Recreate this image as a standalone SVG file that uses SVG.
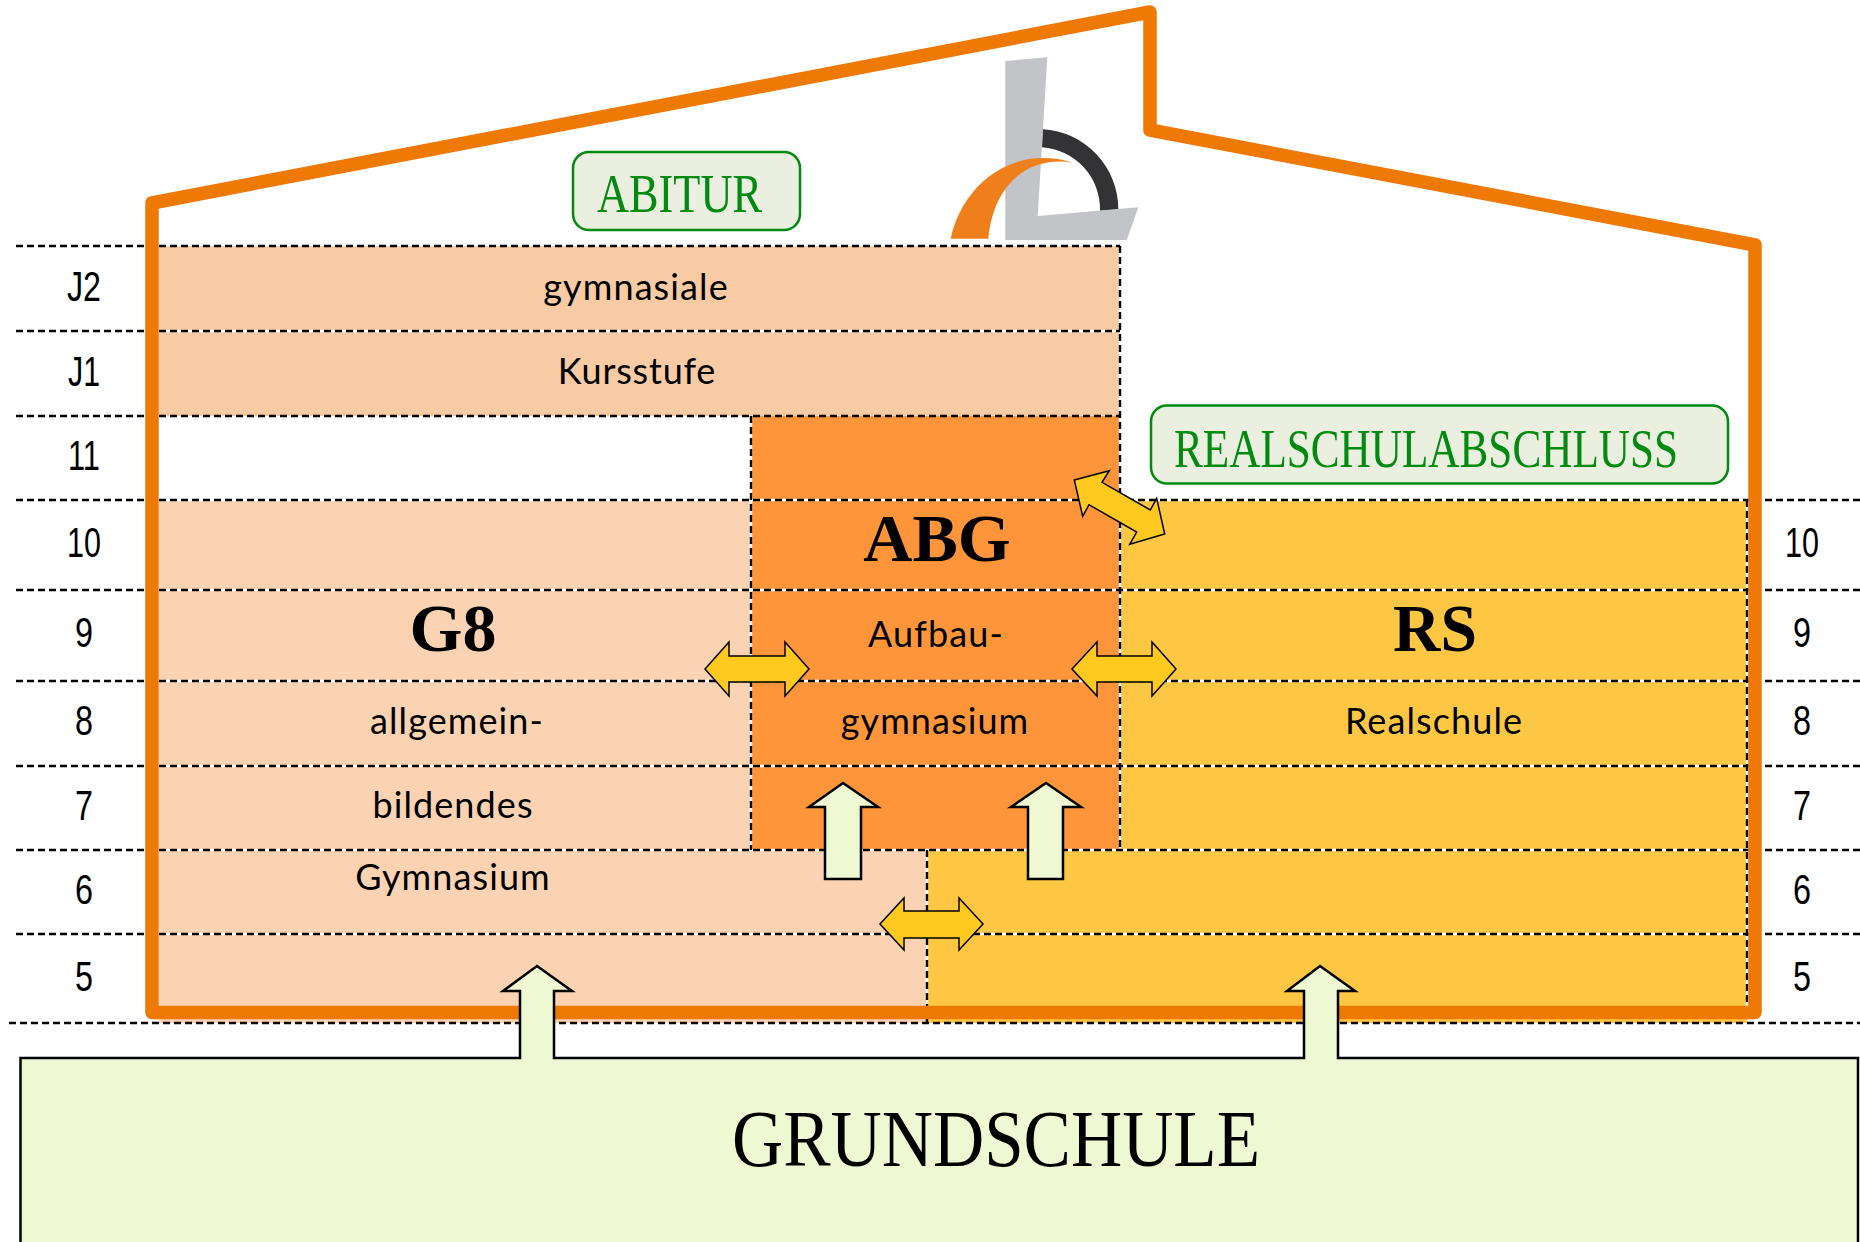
<svg xmlns="http://www.w3.org/2000/svg" width="1860" height="1242" viewBox="0 0 1860 1242">
<style>
.dash{stroke:#000;stroke-width:2.4;stroke-dasharray:7 4;fill:none}
.gap{stroke:#fff;stroke-width:2.4;fill:none}
.row{font-family:"Liberation Sans",Arial,sans-serif;font-size:42px;fill:#000;text-anchor:middle}
.body{font-family:Lato,"Open Sans",sans-serif;font-size:36px;letter-spacing:1.1px;fill:#000;text-anchor:middle}
.big{font-family:"Liberation Serif","Times New Roman",serif;font-weight:bold;font-size:68px;fill:#000;text-anchor:middle}
.goal{font-family:"Liberation Serif","Times New Roman",serif;font-size:55px;fill:#008a10}
.goalbox{fill:#eaefdf;stroke:#008a10;stroke-width:2.5}
.up{fill:#eef8d2;stroke:#000;stroke-width:2.5}
.both{fill:#ffc91f;stroke:#000;stroke-width:1.5}
</style>
<g id="bands">
<rect x="159" y="246" width="961" height="170" fill="#f8cba4"/>
<rect x="159" y="500" width="593" height="350" fill="#fcd3b2"/>
<rect x="159" y="850" width="768" height="173" fill="#fcd3b2"/>
<rect x="1120" y="500" width="627" height="350" fill="#fec743"/>
<rect x="927" y="850" width="820" height="173" fill="#fec743"/>
<rect x="751" y="416" width="369" height="434" fill="#fe953a"/>
</g>
<g id="logo">
<path d="M1042.7,129.3A80,80 0 0 1 1118.3,209.3L1100,210.7A62,62 0 0 0 1042,147.3Z" fill="#333335"/>
<path d="M1005.3,61L1047.3,57.3L1037.7,216L1138.3,207.3L1126.7,240L1005.3,240Z" fill="#c3c4c7"/>
<path d="M950.7,238.7C962,185 1012,144 1072.7,162.7C1032,156 994,180 988.3,238.7Z" fill="#ef7f1a"/>
</g>
<g id="grid">
<path class="gap" d="M159,331H1120M159,500H1860M159,590H1860M159,681H1860M159,766H1860M159,850H1860M159,934H1860"/>
<path class="gap" d="M751,416V850M1120,246V850M927,850V1023M1747,500V1012"/>
<path class="dash" d="M16,246H1120M16,331H1120M16,416H1120M16,500H1860M16,590H1860M16,681H1860M16,766H1860M16,850H1860M16,934H1860M9,1023H1860"/>
<path class="dash" d="M751,416V850M1120,246V850M927,850V1023M1747,500V1012"/>
</g>
<path id="house" d="M152,1012.5V203L1150,12V130L1755,245V1012.5Z" fill="none" stroke="#ee7a05" stroke-width="13.5" stroke-linejoin="round"/>
<g id="grundschule">
<path d="M20.5,1242V1058H520V991H503L537,966L572,991H554V1058H1304V991H1287L1320,966L1355,991H1338V1058H1858V1242" fill="#eef8d2" stroke="#000" stroke-width="2.5"/>
<text x="996" y="1166" font-family="'Liberation Serif',serif" font-size="80" fill="#000" text-anchor="middle" textLength="528" lengthAdjust="spacingAndGlyphs">GRUNDSCHULE</text>
</g>
<g id="abitur">
<rect class="goalbox" x="573" y="152" width="227" height="78" rx="16"/>
<text class="goal" x="597" y="212" textLength="165" lengthAdjust="spacingAndGlyphs">ABITUR</text>
</g>
<g id="realschulabschluss">
<rect class="goalbox" x="1151" y="405.5" width="577" height="78" rx="16"/>
<text class="goal" x="1174" y="467" textLength="504" lengthAdjust="spacingAndGlyphs">REALSCHULABSCHLUSS</text>
</g>
<g id="row-labels">
<text class="row" x="84" y="301" textLength="34" lengthAdjust="spacingAndGlyphs">J2</text>
<text class="row" x="84" y="386" textLength="32" lengthAdjust="spacingAndGlyphs">J1</text>
<text class="row" x="84" y="470" textLength="32" lengthAdjust="spacingAndGlyphs">11</text>
<text class="row" x="84" y="557" textLength="34" lengthAdjust="spacingAndGlyphs">10</text>
<text class="row" x="84" y="647" textLength="18" lengthAdjust="spacingAndGlyphs">9</text>
<text class="row" x="84" y="735" textLength="18" lengthAdjust="spacingAndGlyphs">8</text>
<text class="row" x="84" y="820" textLength="18" lengthAdjust="spacingAndGlyphs">7</text>
<text class="row" x="84" y="904" textLength="18" lengthAdjust="spacingAndGlyphs">6</text>
<text class="row" x="84" y="991" textLength="18" lengthAdjust="spacingAndGlyphs">5</text>
<text class="row" x="1802" y="557" textLength="34" lengthAdjust="spacingAndGlyphs">10</text>
<text class="row" x="1802" y="647" textLength="18" lengthAdjust="spacingAndGlyphs">9</text>
<text class="row" x="1802" y="735" textLength="18" lengthAdjust="spacingAndGlyphs">8</text>
<text class="row" x="1802" y="820" textLength="18" lengthAdjust="spacingAndGlyphs">7</text>
<text class="row" x="1802" y="904" textLength="18" lengthAdjust="spacingAndGlyphs">6</text>
<text class="row" x="1802" y="991" textLength="18" lengthAdjust="spacingAndGlyphs">5</text>
</g>
<g id="labels">
<text class="body" x="636" y="300">gymnasiale</text>
<text class="body" x="637" y="384" style="letter-spacing:.8px">Kursstufe</text>
<text class="big" x="937" y="561">ABG</text>
<text class="big" x="453" y="651">G8</text>
<text class="big" x="1435" y="651" textLength="84" lengthAdjust="spacingAndGlyphs">RS</text>
<text class="body" x="936" y="647">Aufbau-</text>
<text class="body" x="935" y="734">gymnasium</text>
<text class="body" x="457" y="734">allgemein-</text>
<text class="body" x="453" y="818">bildendes</text>
<text class="body" x="453" y="890">Gymnasium</text>
<text class="body" x="1434" y="734">Realschule</text>
</g>
<g id="connectors">
<path class="up" d="M825,879V807H809L843,783L878,807H861V879Z"/>
<path class="up" d="M1028,879V807H1011L1046,783L1081,807H1063V879Z"/>
<path class="both" d="M705,669L729,642V656H785V642L809,669L785,696V682H729V696Z"/>
<path class="both" d="M1072,669L1097,642V656H1152V642L1176,669L1152,696V682H1097V696Z"/>
<path class="both" d="M880,924L904,898V911H959V898L983,924L959,950V938H904V950Z"/>
<path class="both" d="M1074.3,480L1109.3,470.7L1102,482.3L1150.3,510L1156.7,498.3L1164.7,534L1129.7,544.3L1136.7,532L1089,504.7L1082.7,516.3Z"/>
</g>
</svg>
